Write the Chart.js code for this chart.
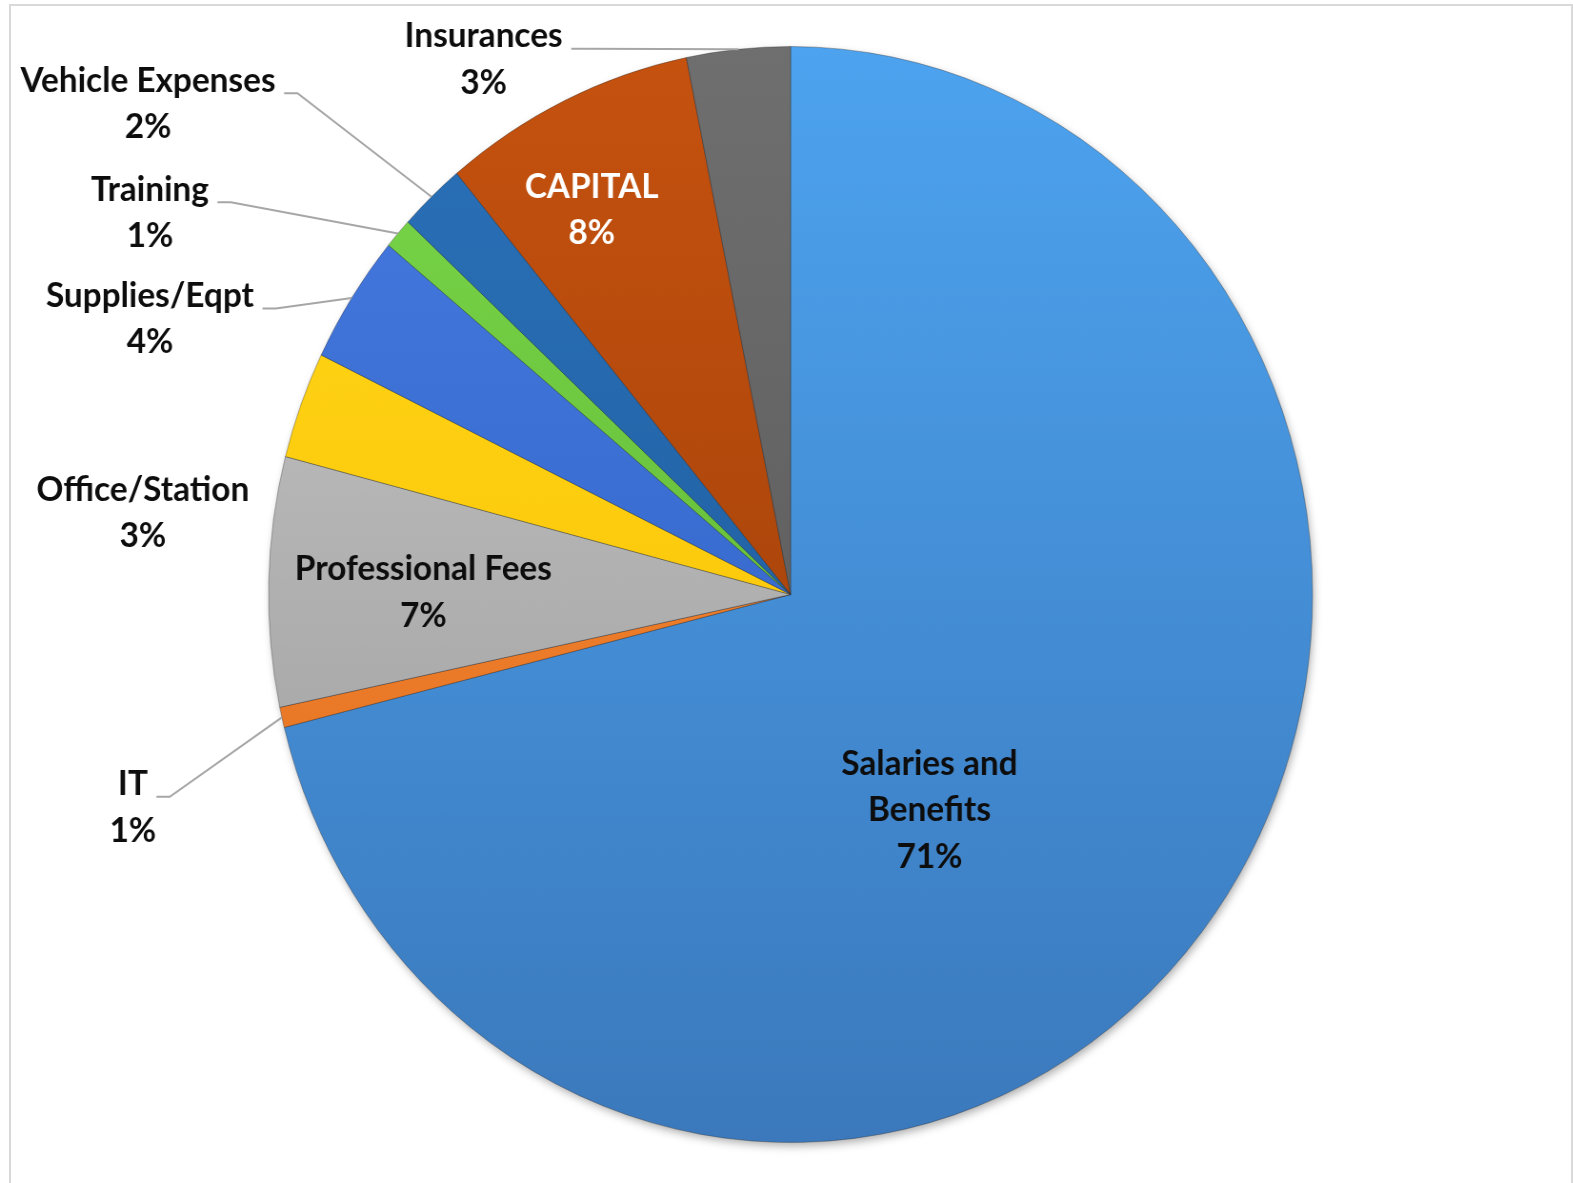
<!DOCTYPE html>
<html>
<head>
<meta charset="utf-8">
<script src="https://cdn.jsdelivr.net/npm/chart.js@4.4.1/dist/chart.umd.min.js"></script>
<style>
  html, body { margin: 0; padding: 0; background: #fff; overflow: hidden; }
  #frame { position: absolute; left: 9px; top: 4px; width: 1560px; height: 1300px; border: 2px solid #d9d9d9; }
  #wrap { position: absolute; left: 0; top: 0; width: 1652px; height: 1183px; transform: scaleX(0.9525); transform-origin: 0 0; }
</style>
</head>
<body>
<div id="frame"></div>
<div id="wrap"><canvas id="budgetPie"></canvas></div>
<script>
// slices clockwise from 12 o'clock
const categories = ['Salaries and Benefits', 'IT', 'Professional Fees', 'Office/Station', 'Supplies/Eqpt', 'Training', 'Vehicle Expenses', 'CAPITAL', 'Insurances'];
const shares = [71.1, 0.6, 7.35, 3.15, 3.8, 0.9, 2.05, 7.85, 3.2];

// top / bottom colour of each slice
const topColors = ['#4da3ef', '#f48a38', '#c9c9c9', '#ffd81a', '#467be2', '#7ad84a', '#2b72ba', '#c6520f', '#6f6f6f'];
const bottomColors = ['#3b79bc', '#e46f1c', '#979797', '#fbbd00', '#2d5dbd', '#58aa2e', '#1b5593', '#953b08', '#545454'];

// label block centre, relative to pie centre in units of the radius
const labelLayout = [
    { dx: 0.266, dy: 0.393, wrap: 260 },
    { dx: -1.260, dy: 0.388, leader: true },
    { dx: -0.7035, dy: -0.004 },
    { dx: -1.2408, dy: -0.149 },
    { dx: -1.2274, dy: -0.503, leader: true },
    { dx: -1.2274, dy: -0.697, leader: true },
    { dx: -1.231, dy: -0.896, leader: true },
    { dx: -0.381, dy: -0.702, color: '#ffffff' },
    { dx: -0.588, dy: -0.977, leader: true }
];

const FONT = 'bold 35px Lato, "Open Sans", sans-serif';
const LINE_H = 46.5;

function wrapText(ctx, text, maxW) {
    if (!maxW) return [text];
    let words = text.split(' '), lines = [], cur = '';
    words.forEach(function (w) {
        let test = cur ? cur + ' ' + w : w;
        if (cur && ctx.measureText(test).width > maxW) {
            lines.push(cur);
            cur = w;
        } else {
            cur = test;
        }
    });
    lines.push(cur);
    return lines;
}

function sliceGradient(c) {
    let area = c.chart.chartArea;
    if (!area) return topColors[c.dataIndex];
    let g = c.chart.ctx.createLinearGradient(0, area.top, 0, area.bottom);
    g.addColorStop(0, topColors[c.dataIndex]);
    g.addColorStop(1, bottomColors[c.dataIndex]);
    return g;
}

const pieShadow = {
    id: 'pieShadow',
    beforeDatasetsDraw(chart) {
        let arc = chart.getDatasetMeta(0).data[0];
        if (!arc) return;
        let ctx = chart.ctx;
        ctx.save();
        ctx.shadowColor = 'rgba(0,0,0,0.35)';
        ctx.shadowBlur = 10;
        ctx.shadowOffsetX = 2;
        ctx.shadowOffsetY = 4;
        ctx.fillStyle = '#3b79bc';
        ctx.beginPath();
        ctx.arc(arc.x, arc.y, arc.outerRadius - 1, 0, Math.PI * 2);
        ctx.fill();
        ctx.restore();
    }
};

const sliceLabels = {
    id: 'sliceLabels',
    afterDatasetsDraw(chart) {
        let ctx = chart.ctx;
        let total = shares.reduce(function (a, b) { return a + b; }, 0);
        ctx.save();
        ctx.font = FONT;
        ctx.textAlign = 'center';
        ctx.textBaseline = 'middle';
        chart.getDatasetMeta(0).data.forEach(function (arc, i) {
            let L = labelLayout[i];
            let R = arc.outerRadius;
            let cx = arc.x + L.dx * R;
            let cy = arc.y + L.dy * R;
            let lines = wrapText(ctx, categories[i], L.wrap);
            lines.push(Math.round(shares[i] / total * 100) + '%');
            let top = cy - (lines.length - 1) * LINE_H / 2;
            ctx.fillStyle = L.color || '#0d0d0d';
            lines.forEach(function (t, k) {
                ctx.fillText(t, cx, top + k * LINE_H);
            });
            if (L.leader) {
                let w = ctx.measureText(lines[0]).width;
                let mid = (arc.startAngle + arc.endAngle) / 2;
                let ax = arc.x + R * Math.cos(mid);
                let ay = arc.y + R * Math.sin(mid);
                let sx = cx + w / 2 + 9;
                let sy = top + 13;
                ctx.strokeStyle = '#a6a6a6';
                ctx.lineWidth = 2;
                ctx.beginPath();
                ctx.moveTo(sx, sy);
                ctx.lineTo(sx + 14, sy);
                ctx.lineTo(ax, ay);
                ctx.stroke();
            }
        });
        ctx.restore();
    }
};

new Chart(document.getElementById('budgetPie'), {
    type: 'pie',
    data: {
        labels: categories,
        datasets: [{
            data: shares,
            backgroundColor: sliceGradient,
            borderColor: 'rgba(40,40,40,0.35)',
            borderWidth: 1,
            hoverOffset: 0
        }]
    },
    options: {
        responsive: true,
        maintainAspectRatio: false,
        animation: false,
        events: [],
        layout: { padding: { left: 281.5, right: 273.5, top: 46, bottom: 40 } },
        plugins: {
            legend: { display: false },
            tooltip: { enabled: false }
        }
    },
    plugins: [pieShadow, sliceLabels]
});
</script>
</body>
</html>
